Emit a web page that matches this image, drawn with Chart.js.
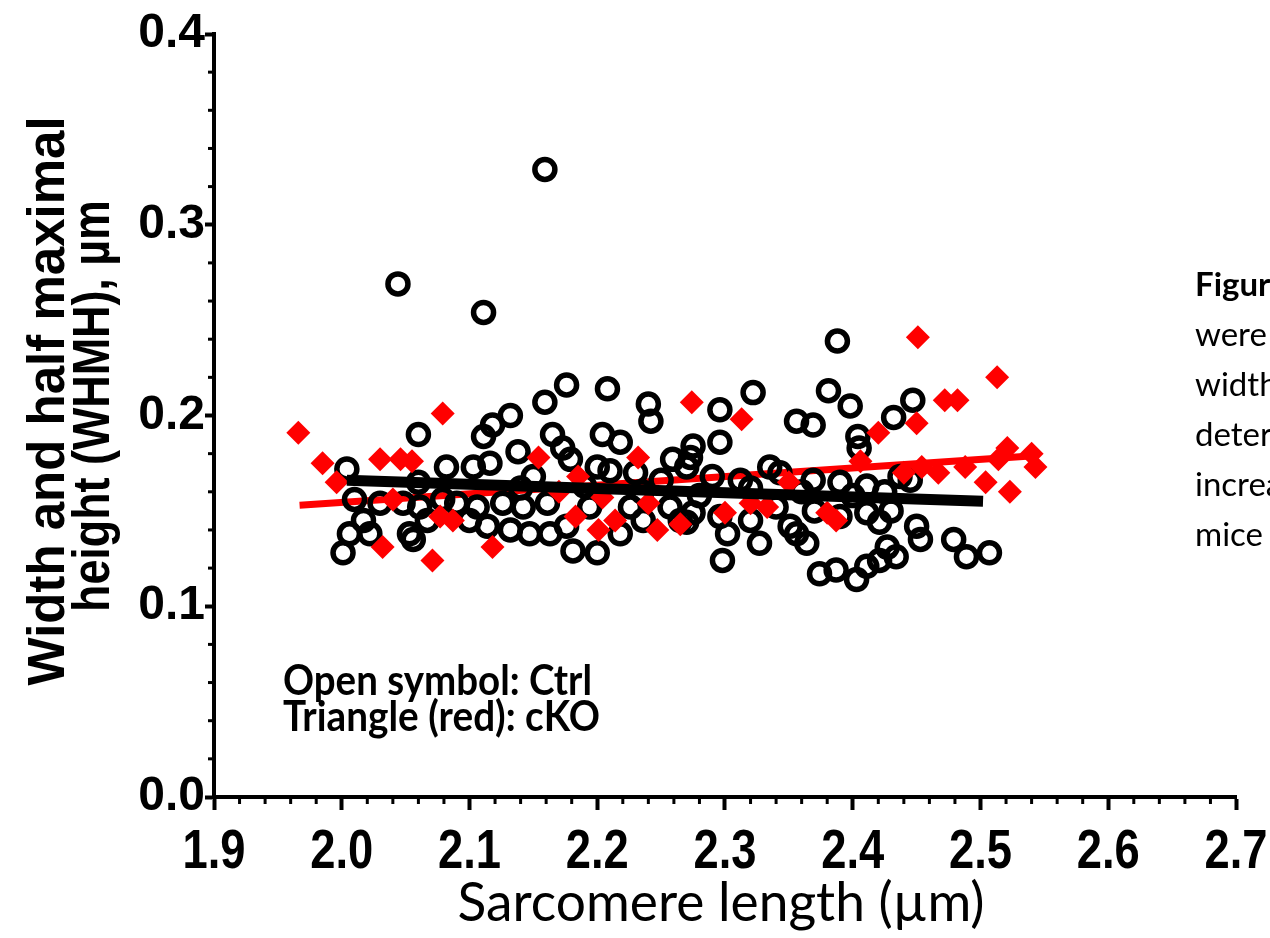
<!DOCTYPE html>
<html>
<head>
<meta charset="utf-8">
<script src="https://cdn.jsdelivr.net/npm/chart.js@4.4.1/dist/chart.umd.min.js"></script>
<style>
    html, body { margin: 0; padding: 0; background: #fff; overflow: hidden; }
    #wrap { position: relative; width: 1270px; height: 938px; }
    #caption {
        position: absolute; left: 1195px; top: 258px;
        font-family: Lato, "Open Sans", sans-serif; font-size: 33px; line-height: 50px;
        color: #000; white-space: nowrap;
    }
</style>
</head>
<body>
<div id="wrap">
    <canvas id="scatterChart"></canvas>
    <div id="caption"><b>Figure</b><br>were<br>width<br>determined<br>increased<br>mice</div>
</div>
<script>
// Ctrl (open circles)
const ctrlX = [2.159, 2.044, 2.111, 2.388,
    2.176, 2.208, 2.159, 2.132, 2.118, 2.111, 2.060, 2.240, 2.242, 2.296, 2.322, 2.381, 2.398, 2.356, 2.369, 2.447,
    2.432, 2.404, 2.405, 2.296, 2.138, 2.165, 2.173, 2.204, 2.218, 2.259, 2.273, 2.275,
    2.004, 2.082, 2.103, 2.116, 2.179, 2.200, 2.210, 2.270, 2.312, 2.335, 2.343, 2.369, 2.390, 2.411, 2.437,
    2.150, 2.230, 2.250, 2.290, 2.320, 2.360, 2.400, 2.425, 2.445, 2.060, 2.140, 2.190, 2.235, 2.280,
    2.010, 2.006, 2.001, 2.017, 2.022, 2.030, 2.048, 2.053, 2.056, 2.061, 2.067, 2.079, 2.090, 2.106, 2.100,
    2.114, 2.126, 2.132, 2.142, 2.147, 2.161, 2.163, 2.176, 2.181, 2.194, 2.200, 2.218, 2.226, 2.236, 2.257,
    2.265, 2.270, 2.275, 2.296, 2.302, 2.298, 2.327, 2.320, 2.351, 2.356, 2.364, 2.374, 2.387, 2.403, 2.411,
    2.421, 2.434, 2.427, 2.450, 2.453, 2.421, 2.411, 2.390, 2.479, 2.489, 2.507, 2.340, 2.370, 2.430];
const ctrlY = [0.329, 0.269, 0.254, 0.239,
    0.216, 0.214, 0.207, 0.200, 0.195, 0.189, 0.190, 0.206, 0.197, 0.203, 0.212, 0.213, 0.205, 0.197, 0.195, 0.208,
    0.199, 0.189, 0.183, 0.186, 0.181, 0.190, 0.183, 0.190, 0.186, 0.177, 0.178, 0.184,
    0.172, 0.173, 0.173, 0.175, 0.177, 0.173, 0.171, 0.173, 0.166, 0.173, 0.170, 0.166, 0.165, 0.163, 0.168,
    0.168, 0.170, 0.166, 0.168, 0.162, 0.160, 0.158, 0.160, 0.166, 0.165, 0.162, 0.163, 0.160, 0.158,
    0.156, 0.138, 0.128, 0.145, 0.138, 0.154, 0.154, 0.138, 0.135, 0.152, 0.145, 0.156, 0.154, 0.152, 0.145,
    0.142, 0.154, 0.140, 0.152, 0.138, 0.154, 0.138, 0.142, 0.129, 0.152, 0.128, 0.138, 0.152, 0.145, 0.152,
    0.145, 0.144, 0.149, 0.147, 0.138, 0.124, 0.133, 0.145, 0.142, 0.138, 0.133, 0.117, 0.119, 0.114, 0.121,
    0.124, 0.126, 0.131, 0.142, 0.135, 0.144, 0.149, 0.147, 0.135, 0.126, 0.128, 0.152, 0.150, 0.150];

// cKO (red diamonds)
const ckoX = [1.966, 1.985, 1.996, 2.030, 2.046, 2.055, 2.079, 2.032, 2.040, 2.071, 2.077, 2.087, 2.118,
    2.154, 2.185, 2.183, 2.201, 2.214, 2.204, 2.232, 2.240, 2.247, 2.265, 2.274, 2.313, 2.300, 2.320, 2.333,
    2.380, 2.387, 2.406, 2.420, 2.451, 2.450, 2.472, 2.482, 2.513, 2.454, 2.467, 2.488, 2.504, 2.523, 2.514,
    2.521, 2.540, 2.543, 2.170, 2.350, 2.440];
const ckoY = [0.191, 0.175, 0.165, 0.177, 0.177, 0.176, 0.201, 0.131, 0.156, 0.124, 0.147, 0.145, 0.131,
    0.178, 0.168, 0.147, 0.140, 0.145, 0.157, 0.178, 0.154, 0.140, 0.143, 0.207, 0.198, 0.149, 0.154, 0.152,
    0.149, 0.145, 0.176, 0.191, 0.241, 0.196, 0.208, 0.208, 0.220, 0.173, 0.170, 0.173, 0.165, 0.160, 0.177,
    0.183, 0.180, 0.173, 0.160, 0.165, 0.170];

// regression lines
const ctrlFitX = [2.004, 2.502];
const ctrlFitY = [0.166, 0.155];
const ckoFitX = [1.967, 2.545];
const ckoFitY = [0.153, 0.179];

const xTickLabels = ['1.9', '2.0', '2.1', '2.2', '2.3', '2.4', '2.5', '2.6', '2.7'];
const yTickLabels = ['0.0', '0.1', '0.2', '0.3', '0.4'];
const yTitleLines = ['Width and half maximal', 'height (WHMH), µm'];
const xTitle = 'Sarcomere length (µm)';
const noteLines = ['Open symbol: Ctrl', 'Triangle (red): cKO'];

const toPoints = (xs, ys) => xs.map((v, i) => ({ x: v, y: ys[i] }));

// small ticks between the labelled ones
const minorTicks = {
    id: 'minorTicks',
    afterDraw(chart) {
        const { ctx, scales: { x, y } } = chart;
        ctx.save();
        ctx.strokeStyle = '#000';
        ctx.lineWidth = 3;
        for (let i = 1; i < 40; i++) {
            if (i % 5 === 0) continue;
            const px = x.getPixelForValue(1.9 + i * 0.02);
            ctx.beginPath();
            ctx.moveTo(px, x.top);
            ctx.lineTo(px, x.top + 7);
            ctx.stroke();
        }
        for (let i = 1; i < 20; i++) {
            if (i % 5 === 0) continue;
            const py = y.getPixelForValue(i * 0.02);
            ctx.beginPath();
            ctx.moveTo(y.right, py);
            ctx.lineTo(y.right - 6, py);
            ctx.stroke();
        }
        ctx.restore();
    }
};

// x tick labels (condensed), axis titles and the note inside the plot
const textLayer = {
    id: 'textLayer',
    afterDraw(chart) {
        const ctx = chart.ctx;
        const x = chart.scales.x;
        ctx.save();
        ctx.fillStyle = '#000';
        ctx.textBaseline = 'alphabetic';
        ctx.textAlign = 'center';

        ctx.font = 'bold 55px "Liberation Sans", Arial, sans-serif';
        x.ticks.forEach((t, i) => {
            ctx.fillText(xTickLabels[i], x.getPixelForTick(i), 868, 63);
        });

        ctx.font = 'bold 51px "Liberation Sans", Arial, sans-serif';
        const yPos = [[64, 401, 578], [109, 406, 412]];
        yTitleLines.forEach((t, i) => {
            ctx.save();
            ctx.translate(yPos[i][0], yPos[i][1]);
            ctx.rotate(-Math.PI / 2);
            ctx.fillText(t, 0, 0, yPos[i][2]);
            ctx.restore();
        });

        ctx.font = '55px Lato, "Open Sans", sans-serif';
        ctx.fillText(xTitle, 721, 921, 527);

        ctx.font = 'bold 42px Lato, "Open Sans", sans-serif';
        ctx.textAlign = 'left';
        ctx.fillText(noteLines[0], 283, 695, 309);
        ctx.fillText(noteLines[1], 283, 731, 317);
        ctx.restore();
    }
};

const ctx = document.getElementById('scatterChart').getContext('2d');

const scatterChart = new Chart(ctx, {
    type: 'scatter',
    data: {
        datasets: [{
            label: 'Ctrl fit',
            data: toPoints(ctrlFitX, ctrlFitY),
            showLine: true,
            borderColor: '#000',
            borderWidth: 11,
            pointRadius: 0
        }, {
            label: 'cKO',
            data: toPoints(ckoX, ckoY),
            pointStyle: 'rectRot',
            pointRadius: 12,
            backgroundColor: '#ff0000',
            borderColor: '#ff0000',
            borderWidth: 0
        }, {
            label: 'Ctrl',
            data: toPoints(ctrlX, ctrlY),
            pointStyle: 'circle',
            pointRadius: 10,
            backgroundColor: 'rgba(0,0,0,0)',
            borderColor: '#000',
            borderWidth: 5.5
        }, {
            label: 'cKO fit',
            data: toPoints(ckoFitX, ckoFitY),
            showLine: true,
            borderColor: '#ff0000',
            borderWidth: 7,
            pointRadius: 0
        }]
    },
    options: {
        responsive: true,
        maintainAspectRatio: false,
        animation: false,
        layout: { padding: { left: 0, top: 34, right: 34, bottom: 0 } },
        scales: {
            x: {
                type: 'linear',
                position: 'bottom',
                min: 1.9,
                max: 2.7,
                afterFit: (scale) => { scale.height = 141; },
                border: { color: '#000', width: 4 },
                grid: { drawOnChartArea: false, tickLength: 13, tickWidth: 4, tickColor: '#000' },
                ticks: {
                    stepSize: 0.1,
                    display: false
                }
            },
            y: {
                min: 0,
                max: 0.4,
                afterFit: (scale) => { scale.width = 214; },
                border: { color: '#000', width: 4 },
                grid: { drawOnChartArea: false, tickLength: 9, tickWidth: 4, tickColor: '#000' },
                ticks: {
                    stepSize: 0.1,
                    padding: 0,
                    color: '#000',
                    font: { family: '"Liberation Sans", Arial, sans-serif', size: 48, weight: 'bold' },
                    callback: (v, i) => yTickLabels[i]
                }
            }
        },
        plugins: {
            legend: { display: false },
            tooltip: { enabled: false }
        }
    },
    plugins: [minorTicks, textLayer]
});
</script>
</body>
</html>
